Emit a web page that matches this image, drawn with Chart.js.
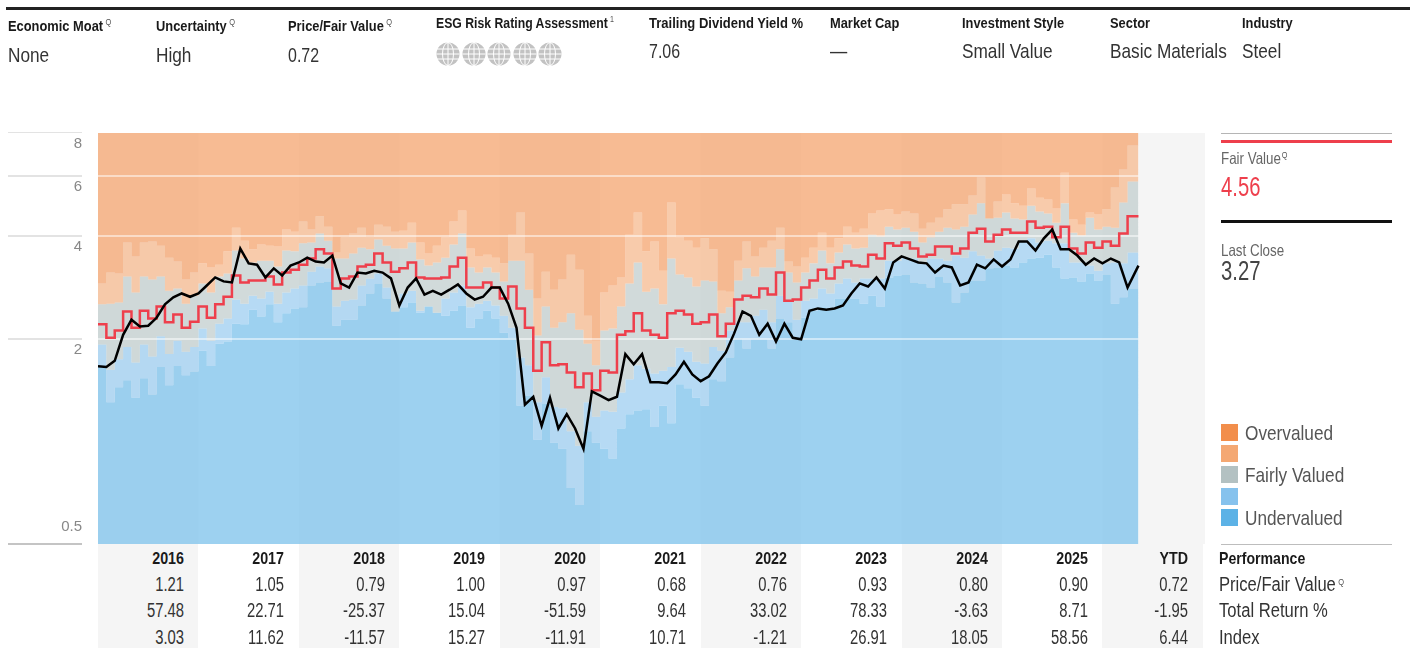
<!DOCTYPE html>
<html>
<head>
<meta charset="utf-8">
<title>Price vs Fair Value</title>
<script src="https://cdn.jsdelivr.net/npm/chart.js@4"></script>
<style>
  html, body { margin: 0; padding: 0; background: #fff; }
  body { width: 1410px; height: 648px; overflow: hidden; position: relative; font-family: "Liberation Sans", sans-serif; color: #333; }
  canvas { position: absolute; left: 0; top: 0; }
  /* no condensed face installed, so squeeze the text sideways */
  .t { position: absolute; white-space: nowrap; line-height: 20px; transform-origin: left center; }
  .head { font-size: 15.5px; font-weight: bold; color: #1a1a1a; transform: scaleX(0.83); }
  .val { font-size: 21px; transform: scaleX(0.82); }
  .dig { transform: scaleX(0.76); }
  .num { font-size: 20px; text-align: right; width: 90px; transform-origin: right center; transform: scaleX(0.74); }
  .yr { font-size: 17px; font-weight: bold; color: #1a1a1a; text-align: right; width: 90px; transform-origin: right center; transform: scaleX(0.84); }
  .rowname { font-size: 20px; transform: scaleX(0.83); }
  .q { font-size: 9px; line-height: 0; vertical-align: 6px; margin-left: 3px; font-weight: normal; color: #555; }
  .rule { position: absolute; }
  .cell { position: absolute; background: #f5f5f5; top: 544px; height: 104px; }
  .swatch { position: absolute; left: 1221px; width: 17px; height: 17px; }
  .side { font-size: 21px; color: #555; transform: scaleX(0.82); }
  .small { font-size: 16.5px; color: #666; transform: scaleX(0.81); }
  .big { font-size: 27px; transform: scaleX(0.75); }
</style>
</head>
<body>
<canvas id="grafico" width="1410" height="648"></canvas>
<script>
// bands and lines, month by month from Jan 2016
const topOfOverBand = [
  2.90,3.12,3.10,3.82,3.48,3.82,3.85,3.74,3.45,3.36,
  2.98,3.12,3.32,3.23,3.29,3.60,4.22,3.87,3.65,3.77,
  3.74,3.72,4.17,4.11,4.40,4.17,4.56,4.25,3.57,3.96,
  4.06,4.22,3.96,4.31,4.25,4.11,4.14,4.37,3.82,3.55,
  3.74,3.96,4.40,4.74,3.67,3.48,3.52,3.45,3.32,4.03,
  4.68,3.55,2.62,3.14,2.78,2.98,3.52,3.18,2.33,1.97,
  2.73,2.86,3.02,4.03,4.68,3.60,3.85,3.16,5.01,3.96,
  3.87,3.69,3.93,3.65,2.76,2.74,3.38,3.85,3.48,3.69,
  3.87,4.22,3.36,3.25,3.45,3.69,4.08,3.69,3.93,4.25,
  4.08,4.19,4.65,4.74,4.78,4.62,4.71,4.65,4.19,4.37,
  4.52,4.78,4.95,4.95,5.25,5.93,4.49,5.04,5.28,4.98,
  4.90,5.50,5.17,5.11,4.81,6.12,4.46,4.31,4.68,4.62,
  4.78,5.54,6.25,7.35
];
const topOfFairBand = [
  2.52,2.53,2.55,3.04,2.73,3.04,2.98,3.04,2.76,2.80,
  2.53,2.67,2.90,2.73,3.04,3.10,3.62,3.43,3.34,3.38,
  3.38,3.25,3.62,3.60,3.80,3.82,4.06,3.87,3.43,3.43,
  3.55,3.69,3.65,3.90,3.74,3.67,3.67,3.82,3.41,3.27,
  3.34,3.45,3.77,4.06,3.23,3.12,3.23,3.12,2.94,3.38,
  3.38,2.78,2.04,2.48,2.15,2.23,2.37,2.12,1.93,1.67,
  2.11,2.14,2.48,2.90,3.34,2.74,2.80,2.52,3.43,3.08,
  3.02,2.84,2.96,2.94,2.37,2.47,2.96,3.21,3.04,3.23,
  3.23,3.65,3.12,2.92,3.12,3.32,3.62,3.32,3.57,3.77,
  3.67,3.69,4.03,3.98,4.25,4.17,4.22,4.11,3.82,3.96,
  4.11,4.22,4.17,4.25,4.62,4.98,4.49,4.52,4.68,4.49,
  4.46,4.90,4.71,4.65,4.37,4.98,4.08,4.01,4.52,4.17,
  4.25,4.22,5.01,5.77
];
const topOfLowBand = [
  1.92,1.62,1.74,1.89,1.70,1.92,1.77,2.03,1.80,1.97,
  1.83,1.89,2.14,1.97,2.21,2.29,2.60,2.53,2.67,2.62,
  2.74,2.53,2.73,2.80,2.86,3.14,3.25,3.21,2.48,2.58,
  2.60,2.86,3.00,3.10,2.82,2.40,2.71,2.76,2.41,2.48,
  2.38,2.62,2.73,2.86,2.47,2.53,2.58,2.50,2.33,2.15,
  1.76,1.67,1.30,1.54,1.26,1.25,1.07,0.97,1.30,1.18,
  1.23,1.22,1.39,1.52,1.67,1.63,1.58,1.61,1.65,1.88,
  1.83,1.71,1.69,1.89,1.84,2.11,2.23,2.23,2.33,2.43,
  2.23,2.67,2.57,2.27,2.58,2.62,2.80,2.71,2.90,3.00,
  2.92,3.00,3.00,3.00,3.38,3.38,3.45,3.43,3.32,3.43,
  3.43,3.38,3.50,3.45,3.60,3.50,3.43,3.62,3.69,3.67,
  3.87,3.93,3.82,3.87,3.80,3.80,3.34,3.34,3.27,3.16,
  3.32,3.34,3.32,3.57
];
const topOfUnderBand = [
  1.66,1.30,1.44,1.51,1.34,1.53,1.37,1.65,1.46,1.66,
  1.56,1.60,1.84,1.66,1.93,1.96,2.21,2.20,2.43,2.32,
  2.52,2.23,2.37,2.45,2.47,2.86,2.92,2.94,2.18,2.27,
  2.27,2.50,2.71,2.90,2.62,2.40,2.47,2.55,2.38,2.48,
  2.38,2.33,2.41,2.50,2.15,2.29,2.41,2.29,2.08,2.01,
  1.27,1.36,1.01,1.29,0.99,0.95,0.73,0.65,1.07,0.99,
  0.95,0.89,1.09,1.20,1.23,1.24,1.10,1.27,1.13,1.47,
  1.43,1.34,1.27,1.52,1.50,1.76,1.99,1.87,1.99,1.99,
  1.87,2.29,2.23,2.00,2.30,2.41,2.47,2.43,2.62,2.62,
  2.62,2.53,2.67,2.48,3.02,3.06,3.08,2.92,2.90,2.82,
  3.04,2.92,2.55,2.73,2.96,2.96,3.21,3.23,3.27,3.23,
  3.34,3.43,3.45,3.52,3.23,3.00,3.02,2.94,3.10,2.96,
  3.08,2.53,2.64,2.80
];
const fairValue = [
  2.20,2.01,2.11,2.40,2.15,2.41,2.29,2.48,2.23,2.35,
  2.15,2.24,2.48,2.30,2.52,2.65,3.06,2.92,2.96,2.96,
  3.04,2.88,3.12,3.18,3.29,3.43,3.65,3.55,2.80,3.00,
  3.04,3.25,3.29,3.55,3.34,3.14,3.21,3.34,3.02,3.00,
  3.00,3.02,3.25,3.45,2.82,2.82,2.92,2.82,2.62,2.84,
  2.45,2.15,1.61,1.95,1.67,1.68,1.59,1.44,1.58,1.41,
  1.61,1.59,2.05,2.10,2.37,2.11,2.05,2.01,2.37,2.41,
  2.35,2.21,2.23,2.35,2.03,2.21,2.60,2.67,2.64,2.80,
  2.69,3.12,2.58,2.60,2.82,2.96,3.18,3.00,3.23,3.36,
  3.27,3.25,3.52,3.43,3.80,3.74,3.82,3.67,3.48,3.52,
  3.72,3.72,3.55,3.67,4.08,4.19,3.85,4.03,4.17,4.08,
  4.08,4.40,4.22,4.25,3.96,4.25,3.67,3.55,3.82,3.69,
  3.85,3.74,4.06,4.56
];
const lastClose = [
  1.66,1.65,1.72,2.05,2.27,2.17,2.18,2.30,2.52,2.64,
  2.71,2.65,2.71,2.86,3.02,2.94,2.92,3.67,3.32,3.29,
  3.02,3.21,3.06,3.27,3.34,3.45,3.36,3.34,3.50,2.90,
  2.82,3.12,3.10,3.16,3.12,3.00,2.50,2.82,3.00,2.69,
  2.76,2.69,2.78,2.88,2.71,2.60,2.65,2.82,2.82,2.53,
  2.15,1.28,1.35,1.11,1.34,1.09,1.20,1.09,0.95,1.40,
  1.36,1.32,1.35,1.80,1.68,1.80,1.49,1.49,1.48,1.57,
  1.71,1.57,1.50,1.55,1.69,1.82,2.07,2.40,2.33,2.05,
  2.21,1.96,2.21,2.01,1.99,2.41,2.45,2.43,2.45,2.50,
  2.71,2.90,2.84,3.02,2.80,3.34,3.48,3.41,3.34,3.32,
  3.12,3.27,3.23,2.86,2.92,3.29,3.21,3.41,3.25,3.41,
  3.85,3.85,3.62,3.93,4.17,3.65,3.65,3.50,3.29,3.43,
  3.32,3.43,3.34,2.82,3.27
];

const yearLabels = ["2016","2017","2018","2019","2020","2021","2022","2023","2024","2025","YTD"];
const priceFair = ["1.21","1.05","0.79","1.00","0.97","0.68","0.76","0.93","0.80","0.90","0.72"];
const totalReturn = ["57.48","22.71","-25.37","15.04","-51.59","9.64","33.02","78.33","-3.63","8.71","-1.95"];
const indexReturn = ["3.03","11.62","-11.57","15.27","-11.91","10.71","-1.21","26.91","18.05","58.56","6.44"];

const yTicks = [0.5, 2, 4, 6, 8];
const lastMonth = 124.3;     // data stops a little into May 2026
const axisEnd = 132.25;      // YTD column runs past the data

const headers = [
  { label: "Economic Moat", q: "Q", value: "None", x: 8, labelY: 16, valueY: 45 },
  { label: "Uncertainty", q: "Q", value: "High", x: 156, labelY: 16, valueY: 45 },
  { label: "Price/Fair Value", q: "Q", value: "0.72", x: 288, labelY: 16, valueY: 45 },
  { label: "ESG Risk Rating Assessment", q: "1", value: "", x: 436, labelY: 13, valueY: 41, squeeze: 0.79 },
  { label: "Trailing Dividend Yield %", value: "7.06", x: 649, labelY: 13, valueY: 41, squeeze: 0.84 },
  { label: "Market Cap", value: "—", x: 830, labelY: 13, valueY: 41 },
  { label: "Investment Style", value: "Small Value", x: 962, labelY: 13, valueY: 41 },
  { label: "Sector", value: "Basic Materials", x: 1110, labelY: 13, valueY: 41 },
  { label: "Industry", value: "Steel", x: 1242, labelY: 13, valueY: 41 }
];

const legendItems = [
  { text: "Overvalued", color: "#f28e4b", y: 424 },
  { text: "", color: "#f4a873", y: 445 },
  { text: "Fairly Valued", color: "#b3c1c2", y: 466 },
  { text: "", color: "#86c2ed", y: 488 },
  { text: "Undervalued", color: "#5cb2e6", y: 509 }
];

function addText(cls, text, x, y, extra) {
  const el = document.createElement("div");
  el.className = "t " + cls;
  el.innerHTML = text;
  el.style.left = x + "px";
  el.style.top = y + "px";
  if (extra) Object.assign(el.style, extra);
  document.body.appendChild(el);
  return el;
}

function addRule(x, y, w, h, color) {
  const el = document.createElement("div");
  el.className = "rule";
  Object.assign(el.style, { left: x + "px", top: y + "px", width: w + "px", height: h + "px", background: color });
  document.body.appendChild(el);
}

function monthPoints(values) {
  const pts = values.map((y, i) => ({ x: i, y: y }));
  if (values.length === 124) pts.push({ x: lastMonth, y: values[123] });
  else pts[124].x = lastMonth;
  return pts;
}

function band(values, fill, color) {
  return {
    data: monthPoints(values),
    order: 2,
    stepped: true,
    fill: fill,
    backgroundColor: color,
    borderWidth: 0,
    pointRadius: 0
  };
}

// faint year stripes behind the bands, plain grey where the data has run out
const stripesPlugin = {
  id: "stripes",
  beforeDatasetsDraw(chart) {
    const { ctx, scales, chartArea } = chart;
    ctx.save();
    ctx.fillStyle = "#f9f9f9";
    for (let k = 0; k <= 10; k += 2) {
      const x1 = scales.x.getPixelForValue(k * 12);
      const x2 = scales.x.getPixelForValue(k === 10 ? lastMonth : (k + 1) * 12);
      ctx.fillRect(x1, chartArea.top, x2 - x1, chartArea.height);
    }
    const tail = scales.x.getPixelForValue(lastMonth);
    ctx.fillStyle = "#f5f5f5";
    ctx.fillRect(tail, chartArea.top, chartArea.right - tail, chartArea.height);
    ctx.restore();
  }
};

// value lines sit on top of the bands but under the two series
// datasets draw last to first, so band 0 is the last band painted
const valueLinesPlugin = {
  id: "valueLines",
  afterDatasetDraw(chart, args) {
    if (args.index !== 0) return;
    const { ctx, scales } = chart;
    ctx.save();
    yTicks.forEach(v => {
      const y = scales.y.getPixelForValue(v);
      ctx.fillStyle = v === 0.5 ? "#c4c4c4" : "#e3e3e3";
      ctx.fillRect(8, Math.round(y) - 1, 74, v === 8 ? 1 : 2);
      if (v === 2 || v === 4 || v === 6) {
        ctx.fillStyle = "rgba(255,255,255,0.5)";
        ctx.fillRect(scales.x.left, Math.round(y) - 1, scales.x.getPixelForValue(lastMonth) - scales.x.left, 2);
      }
    });
    ctx.restore();
  }
};

new Chart(document.getElementById("grafico"), {
  type: "line",
  data: {
    datasets: [
      band(topOfOverBand, "end", "rgba(242,142,75,0.6)"),
      band(topOfFairBand, "-1", "rgba(244,168,115,0.6)"),
      band(topOfLowBand, "-1", "rgba(179,193,194,0.6)"),
      band(topOfUnderBand, "-1", "rgba(134,194,237,0.6)"),
      band(topOfUnderBand, "start", "rgba(92,178,230,0.6)"),
      {
        label: "Fair Value",
        data: monthPoints(fairValue),
        order: 1,
        stepped: true,
        borderColor: "#ee3f4c",
        borderWidth: 2.5,
        borderJoinStyle: "miter",
        pointRadius: 0,
        fill: false
      },
      {
        label: "Last Close",
        data: monthPoints(lastClose),
        order: 0,
        borderColor: "#000",
        borderWidth: 2.5,
        pointRadius: 0,
        fill: false
      }
    ]
  },
  options: {
    responsive: false,
    animation: false,
    layout: { padding: { top: 133, bottom: 104, right: 205, left: 0 } },
    plugins: { legend: { display: false }, tooltip: { enabled: false } },
    scales: {
      x: { type: "linear", min: 0, max: axisEnd, display: false },
      y: {
        type: "logarithmic",
        min: 0.5,
        max: 8,
        afterBuildTicks: s => { s.ticks = yTicks.map(v => ({ value: v })); },
        afterFit: s => { s.width = 98; },
        border: { display: false },
        grid: { display: false, drawTicks: false },
        ticks: {
          // labels hang below their line, 0.5 sits above the baseline
          callback: v => v === 0.5 ? ["0.5", "", "", ""] : String(v),
          autoSkip: false,
          labelOffset: 11,
          padding: 16,
          color: "#888",
          font: { family: "'Liberation Sans'", size: 15, lineHeight: 1.25 }
        }
      }
    }
  },
  plugins: [stripesPlugin, valueLinesPlugin]
});

// header strip
addRule(6, 7, 1404, 3, "#222");
headers.forEach(h => {
  const q = h.q ? '<span class="q">' + h.q + "</span>" : "";
  addText("head", h.label + q, h.x, h.labelY, h.squeeze ? { transform: "scaleX(" + h.squeeze + ")" } : null);
  if (h.value) addText(/^[0-9.]+$/.test(h.value) ? "val dig" : "val", h.value, h.x, h.valueY);
});

const globe = '<svg width="24" height="24" viewBox="0 0 24 24" style="margin-right:1.5px">' +
  '<circle cx="12" cy="12" r="11.5" fill="#c2c2c2"/>' +
  '<g fill="none" stroke="#fff" stroke-width="1">' +
  '<ellipse cx="12" cy="12" rx="5.5" ry="11.5"/><path d="M12 0V24M1 7H23M0.5 12H23.5M1 17H23"/></g></svg>';
addText("", globe.repeat(5), 436, 42, { lineHeight: "24px" });

// right hand panel
addRule(1221, 133, 171, 1, "#b5b5b5");
addRule(1221, 140, 171, 3, "#ee3f4c");
addText("small", 'Fair Value<span class="q" style="margin-left:1px">Q</span>', 1221, 148);
addText("big", "4.56", 1221, 177, { color: "#ee3f4c" });
addRule(1221, 220, 171, 3, "#111");
addText("small", "Last Close", 1221, 240);
addText("big", "3.27", 1221, 261, { color: "#444" });

legendItems.forEach(item => {
  const s = document.createElement("div");
  s.className = "swatch";
  s.style.top = item.y + "px";
  s.style.background = item.color;
  document.body.appendChild(s);
  if (item.text) addText("side", item.text, 1245, item.y - 1);
});
addRule(1221, 544, 171, 1, "#bdbdbd");

// performance table under the chart
yearLabels.forEach((yr, i) => {
  const left = 98 + i * 100.44;
  if (i % 2 === 0) {
    const c = document.createElement("div");
    c.className = "cell";
    c.style.left = left + "px";
    c.style.width = "100.44px";
    document.body.appendChild(c);
  }
  const right = left + 86;
  addText("yr", yr, right - 90, 549);
  addText("num", priceFair[i], right - 90, 574);
  addText("num", totalReturn[i], right - 90, 600);
  addText("num", indexReturn[i], right - 90, 627);
});
addText("head", "Performance", 1219, 549, { fontSize: "17px" });
addText("rowname", 'Price/Fair Value<span class="q">Q</span>', 1219, 574);
addText("rowname", "Total Return %", 1219, 600);
addText("rowname", "Index", 1219, 627);
</script>
</body>
</html>
